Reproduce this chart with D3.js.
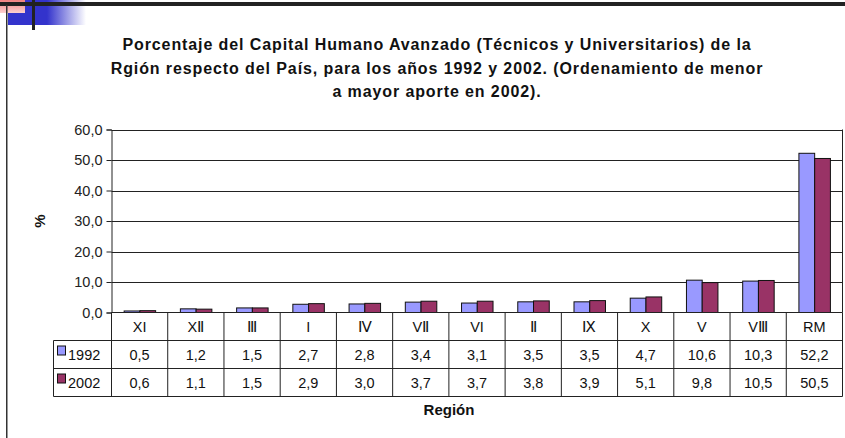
<!DOCTYPE html>
<html>
<head>
<meta charset="utf-8">
<script src="https://cdn.jsdelivr.net/npm/d3@7"></script>
<style>
  html, body { margin: 0; padding: 0; background: #fff; }
  svg { display: block; font-family: "Liberation Sans", Arial, sans-serif; }
</style>
</head>
<body>
<svg id="chart" width="845" height="438"></svg>
<script>
// Regions, ordered from smallest to largest share in 2002
const regions = ["XI", "X\u2161", "\u2162", "I", "\u2163", "V\u2161", "VI", "\u2161", "\u2168", "X", "V", "V\u2162", "RM"];
const years = ["1992", "2002"];
const values1992 = [0.5, 1.2, 1.5, 2.7, 2.8, 3.4, 3.1, 3.5, 3.5, 4.7, 10.6, 10.3, 52.2];
const values2002 = [0.6, 1.1, 1.5, 2.9, 3.0, 3.7, 3.7, 3.8, 3.9, 5.1, 9.8, 10.5, 50.5];
const yTicks = [0, 10, 20, 30, 40, 50, 60];
const titleLines = [
  "Porcentaje del Capital Humano Avanzado (Técnicos y Universitarios) de la",
  "Rgión respecto del País, para los años 1992 y 2002. (Ordenamiento de menor",
  "a mayor aporte en 2002)."
];
const seriesColors = { "1992": "#9999FF", "2002": "#993366" };

const svg = d3.select("#chart");
const fmt = v => v.toFixed(1).replace(".", ",");

// --- slide decoration in the top-left corner ---
const defs = svg.append("defs");
const blueGrad = defs.append("linearGradient").attr("id", "blueFade");
blueGrad.append("stop").attr("offset", "0").attr("stop-color", "#3333cc");
blueGrad.append("stop").attr("offset", "0.5").attr("stop-color", "#3333cc");
blueGrad.append("stop").attr("offset", "1").attr("stop-color", "#ffffff");
const pinkGrad = defs.append("linearGradient").attr("id", "pinkFade")
  .attr("x1", 0).attr("y1", 0).attr("x2", 0).attr("y2", 1);
pinkGrad.append("stop").attr("offset", "0").attr("stop-color", "#f08080");
pinkGrad.append("stop").attr("offset", "1").attr("stop-color", "#fcd0d0");

svg.append("rect").attr("x", 8).attr("y", 0).attr("width", 78).attr("height", 25).attr("fill", "url(#blueFade)");
svg.append("rect").attr("x", 0).attr("y", 0).attr("width", 25).attr("height", 13).attr("fill", "url(#pinkFade)");
svg.append("rect").attr("x", 0).attr("y", 2).attr("width", 845).attr("height", 4).attr("fill", "#222");
svg.append("rect").attr("x", 32).attr("y", 0).attr("width", 3).attr("height", 30).attr("fill", "#222");
svg.append("rect").attr("x", 6).attr("y", 5).attr("width", 1.5).attr("height", 433).attr("fill", "#333");

// --- title ---
svg.append("g").selectAll("text").data(titleLines).join("text")
  .attr("x", 437).attr("y", (d, i) => 50 + i * 23.5)
  .attr("text-anchor", "middle")
  .attr("font-weight", "bold").attr("font-size", 16)
  .attr("letter-spacing", 0.9)
  .attr("fill", "#111")
  .text(d => d);

// --- scales ---
const plotLeft = 111.5, plotRight = 842.5, plotTop = 129.5, plotBottom = 312.5;
const x = d3.scaleBand().domain(regions).range([plotLeft, plotRight]).padding(0);
const xSub = d3.scaleBand().domain(years).range([x.bandwidth() * 0.225, x.bandwidth() * 0.785]).padding(0);
const y = d3.scaleLinear().domain([0, 60]).range([plotBottom, plotTop]);

// --- gridlines and plot border ---
svg.append("g").selectAll("line").data(yTicks.filter(t => t > 0)).join("line")
  .attr("x1", plotLeft).attr("x2", plotRight)
  .attr("y1", d => Math.round(y(d)) + 0.5).attr("y2", d => Math.round(y(d)) + 0.5)
  .attr("stroke", "#222").attr("stroke-width", 1);
svg.append("line").attr("x1", plotRight).attr("x2", plotRight)
  .attr("y1", plotTop).attr("y2", plotBottom).attr("stroke", "#222");

// --- y axis ---
const yAxis = d3.axisLeft(y).tickValues(yTicks).tickSize(5).tickPadding(4).tickFormat(fmt);
const yg = svg.append("g").attr("transform", `translate(${plotLeft},0)`).call(yAxis);
yg.select(".domain").attr("stroke", "#222");
yg.selectAll(".tick line").attr("stroke", "#222");
yg.selectAll(".tick text").attr("font-size", 14.5).attr("fill", "#222")
  .attr("font-family", "Liberation Sans, Arial, sans-serif");

svg.append("text")
  .attr("transform", `translate(45,${(plotTop + plotBottom) / 2}) rotate(-90)`)
  .attr("text-anchor", "middle").attr("font-weight", "bold").attr("font-size", 15)
  .attr("fill", "#111").text("%");

// --- bars ---
const rows = regions.map((r, i) => ({ region: r, "1992": values1992[i], "2002": values2002[i] }));
svg.append("g").selectAll("g").data(rows).join("g")
  .attr("transform", d => `translate(${x(d.region)},0)`)
  .selectAll("rect").data(d => years.map(yr => ({ year: yr, value: d[yr] }))).join("rect")
  .attr("x", d => xSub(d.year))
  .attr("width", xSub.bandwidth())
  .attr("y", d => y(d.value))
  .attr("height", d => y(0) - y(d.value))
  .attr("fill", d => seriesColors[d.year])
  .attr("stroke", "#111").attr("stroke-width", 1);

// axis baseline
svg.append("line").attr("x1", plotLeft).attr("x2", plotRight)
  .attr("y1", plotBottom).attr("y2", plotBottom).attr("stroke", "#222");

// --- data table under the axis ---
const tableLeft = 53.5;
const rowEdges = [312.5, 340.5, 368.5, 396.5];
const tbl = svg.append("g");
tbl.selectAll("line.h").data(rowEdges.slice(1)).join("line")
  .attr("x1", tableLeft).attr("x2", plotRight)
  .attr("y1", d => d).attr("y2", d => d).attr("stroke", "#222");
const colEdges = regions.map(r => x(r)).concat([plotRight]);
tbl.selectAll("line.v").data(colEdges).join("line")
  .attr("x1", d => d).attr("x2", d => d)
  .attr("y1", rowEdges[0]).attr("y2", rowEdges[3]).attr("stroke", "#222");
tbl.append("line").attr("x1", tableLeft).attr("x2", tableLeft)
  .attr("y1", rowEdges[1]).attr("y2", rowEdges[3]).attr("stroke", "#222");

const cx = r => x(r) + x.bandwidth() / 2;
tbl.selectAll("text.cat").data(regions).join("text")
  .attr("x", cx).attr("y", (rowEdges[0] + rowEdges[1]) / 2 + 5)
  .attr("text-anchor", "middle").attr("font-size", 14.5).attr("fill", "#111")
  .text(d => d);
[values1992, values2002].forEach((vals, k) => {
  const yc = (rowEdges[k + 1] + rowEdges[k + 2]) / 2 + 5;
  tbl.append("g").selectAll("text").data(vals).join("text")
    .attr("x", (d, i) => cx(regions[i])).attr("y", yc)
    .attr("text-anchor", "middle").attr("font-size", 14.5).attr("fill", "#111")
    .text(fmt);
  tbl.append("rect").attr("x", 57.5).attr("y", yc - 13.5).attr("width", 8).attr("height", 9)
    .attr("fill", seriesColors[years[k]]).attr("stroke", "#111");
  tbl.append("text").attr("x", 68).attr("y", yc)
    .attr("font-size", 14.5).attr("fill", "#111").text(years[k]);
});

svg.append("text").attr("x", 449).attr("y", 415)
  .attr("text-anchor", "middle").attr("font-weight", "bold").attr("font-size", 15)
  .attr("fill", "#111").text("Región");
</script>
</body>
</html>
